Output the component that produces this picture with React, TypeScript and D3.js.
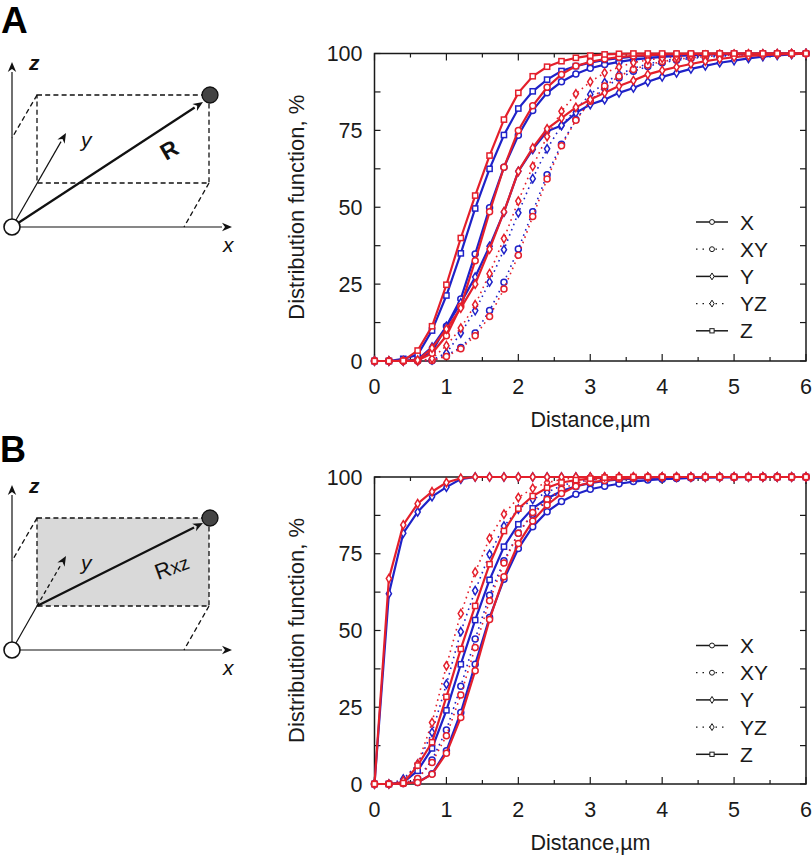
import React from "react";
import * as d3 from "d3";

const distance = d3.range(31).map((i) => i * 0.2);
const xTickMajor = [0, 1, 2, 3, 4, 5, 6];
const xTickMinor = [0.5, 1.5, 2.5, 3.5, 4.5, 5.5];
const yTickMajor = [0, 25, 50, 75, 100];
const yTickMinor = [12.5, 37.5, 62.5, 87.5];
const legendNames = ["X", "XY", "Y", "YZ", "Z"];

// Panel A
const aXBlue = [0,
  0, 0, 0.3, 3, 11.3,
  20.2, 34.8, 49.8, 63, 73.4,
  81.5, 87.2, 90.8, 93.3, 95.2,
  96.4, 97.3, 98, 98.5, 98.9,
  99.2, 99.4, 99.6, 99.7, 99.8,
  99.9, 99.9, 100, 100, 100];
const aXRed = [0,
  0, 0, 0.2, 2.5, 8.2,
  17.8, 32.6, 48.5, 63, 75,
  83, 89, 93.2, 95.9, 97.3,
  98.2, 98.8, 99.2, 99.5, 99.7,
  99.8, 99.9, 99.9, 100, 100,
  100, 100, 100, 100, 100];
const aYBlue = [0,
  0, 0, 0.5, 4.5, 11.3,
  18.9, 27.3, 37.3, 48.4, 61.7,
  68.8, 74.7, 76.6, 80.7, 83.4,
  85, 87.2, 88.8, 90.8, 92.4,
  93.7, 95, 96, 97, 97.7,
  98.4, 99, 99.4, 99.7, 100];
const aYRed = [0,
  0, 0, 0.3, 4.2, 10.4,
  17.2, 25, 36.4, 48.5, 61.7,
  69.3, 75.5, 79, 82.5, 85,
  87.2, 89.4, 91.2, 93.2, 94.5,
  95.6, 96.6, 97.5, 98.2, 98.8,
  99.2, 99.5, 99.7, 99.9, 100];
const aXYBlue = [0,
  0, 0, 0, 0.1, 1.9,
  4.4, 9.1, 16.4, 25.6, 36.4,
  48.5, 60.6, 70.5, 78.5, 84.5,
  88.8, 92, 94.2, 95.8, 97,
  97.8, 98.4, 98.8, 99.1, 99.4,
  99.6, 99.7, 99.8, 99.9, 100];
const aXYRed = [0,
  0, 0, 0, 0.2, 1.5,
  4, 8.2, 14.5, 23.4, 34.4,
  47, 59.2, 70, 78.3, 84.5,
  89.4, 92.6, 94.8, 96.3, 97.4,
  98.1, 98.6, 99, 99.3, 99.5,
  99.7, 99.8, 99.9, 100, 100];
const aYZBlue = [0,
  0, 0, 0, 0.4, 2.6,
  9.1, 16.4, 25.7, 36.2, 48.2,
  59.3, 69, 76.6, 81.8, 86.7,
  90.5, 93.2, 95.2, 96.6, 97.6,
  98.3, 98.8, 99.1, 99.4, 99.6,
  99.7, 99.8, 99.9, 99.9, 100];
const aYZRed = [0,
  0, 0, 0, 0.8, 5,
  10.7, 18.3, 28.4, 39.8, 52,
  63.3, 73, 81.2, 86.9, 90.8,
  93.7, 95.6, 97, 97.9, 98.5,
  98.9, 99.2, 99.5, 99.7, 99.8,
  99.9, 99.9, 100, 100, 100];
const aZBlue = [0,
  0, 0.7, 2, 9.9, 21.3,
  35, 49.6, 62.5, 73.5, 82.1,
  87.7, 91.5, 94.3, 95.9, 97,
  97.9, 98.5, 99, 99.3, 99.5,
  99.7, 99.8, 99.9, 99.9, 100,
  100, 100, 100, 100, 100];
const aZRed = [0,
  0, 0.1, 3.4, 11.3, 24.8,
  40, 53.8, 66.8, 78.5, 87.2,
  92.6, 95.7, 97.5, 98.6, 99.3,
  99.7, 99.9, 100, 100, 100,
  100, 100, 100, 100, 100,
  100, 100, 100, 100, 100];

// Panel B
const bXBlue = [0,
  0, 0.3, 0.5, 3.3, 10.8,
  23.3, 39, 54.2, 66.7, 76.7,
  83.8, 88.7, 92, 94.4, 96,
  97, 97.8, 98.5, 99, 99.3,
  99.5, 99.7, 99.8, 99.9, 99.9,
  100, 100, 100, 100, 100];
const bXRed = [0,
  0, 0.2, 0.5, 3.2, 10,
  21.7, 36.9, 53.6, 67.5, 78.3,
  85.7, 90.9, 94.6, 97, 98.2,
  98.9, 99.4, 99.7, 99.9, 100,
  100, 100, 100, 100, 100,
  100, 100, 100, 100, 100];
const bXYBlue = [0,
  0, 0.2, 1.6, 7.8, 17.6,
  31.8, 47.2, 61.5, 72.7, 81.7,
  87.9, 92.2, 95.4, 97, 98,
  98.7, 99.2, 99.5, 99.7, 99.8,
  99.9, 100, 100, 100, 100,
  100, 100, 100, 100, 100];
const bXYRed = [0,
  0, 0.2, 1.8, 7, 15.7,
  29, 44.5, 59.7, 72, 81.7,
  88.4, 92.7, 96, 98, 99,
  99.5, 99.8, 99.9, 100, 100,
  100, 100, 100, 100, 100,
  100, 100, 100, 100, 100];
const bYBlue = [0,
  62, 81.7, 88.6, 93.6, 96.7,
  99.3, 100, 100, 100, 100,
  100, 100, 100, 100, 100,
  100, 100, 100, 100, 100,
  100, 100, 100, 100, 100,
  100, 100, 100, 100, 100];
const bYRed = [0,
  66.9, 84.4, 91.3, 95.2, 98.2,
  99.6, 100, 100, 100, 100,
  100, 100, 100, 100, 100,
  100, 100, 100, 100, 100,
  100, 100, 100, 100, 100,
  100, 100, 100, 100, 100];
const bYZBlue = [0,
  0, 1.6, 6.5, 16.8, 32.5,
  49.6, 63, 74.8, 84, 89.5,
  92.7, 95, 97.2, 98.4, 99,
  99.4, 99.7, 99.8, 99.9, 100,
  100, 100, 100, 100, 100,
  100, 100, 100, 100, 100];
const bYZRed = [0,
  0, 1, 6.5, 20, 38.5,
  55.5, 69, 80, 87.9, 93.3,
  96.3, 98.2, 99.2, 99.7, 99.9,
  100, 100, 100, 100, 100,
  100, 100, 100, 100, 100,
  100, 100, 100, 100, 100];
const bZBlue = [0,
  0, 0.5, 4.3, 11.6, 24,
  39, 53.4, 66.5, 77.3, 84.6,
  89.8, 93, 95.4, 97, 98,
  98.7, 99.2, 99.5, 99.7, 99.8,
  99.9, 100, 100, 100, 100,
  100, 100, 100, 100, 100];
const bZRed = [0,
  0, 0.3, 6, 13.6, 28.4,
  44, 58, 71.6, 82.4, 89.7,
  93.8, 96.5, 98.2, 99, 99.5,
  99.8, 99.9, 100, 100, 100,
  100, 100, 100, 100, 100,
  100, 100, 100, 100, 100];

const BLUE = "#1f22c8";
const RED = "#e41f2b";
const FONT = "'Liberation Sans', Arial, sans-serif";
const INK = "#1a1a1a";

type Kind = "circle" | "diamond" | "square";

function Marker({ k, x, y, color, small }: { k: Kind; x: number; y: number; color: string; small?: boolean }) {
  const s = small ? 0.82 : 1;
  const sw = small ? 1 : 1.5;
  if (k === "circle") return <circle cx={x} cy={y} r={3 * s} fill="#fff" stroke={color} strokeWidth={sw} />;
  if (k === "square") return <rect x={x - 2.6 * s} y={y - 2.6 * s} width={5.2 * s} height={5.2 * s} fill="#fff" stroke={color} strokeWidth={sw} />;
  const w = 2.6 * s, h = 4.2 * s;
  return <path d={`M${x},${y - h}L${x + w},${y}L${x},${y + h}L${x - w},${y}Z`} fill="#fff" stroke={color} strokeWidth={sw} />;
}

type S = { v: number[]; color: string; k: Kind; dotted: boolean };

const seriesA: S[] = [
  { v: aXYBlue, color: BLUE, k: "circle", dotted: true },
  { v: aYZBlue, color: BLUE, k: "diamond", dotted: true },
  { v: aXBlue, color: BLUE, k: "circle", dotted: false },
  { v: aYBlue, color: BLUE, k: "diamond", dotted: false },
  { v: aZBlue, color: BLUE, k: "square", dotted: false },
  { v: aXYRed, color: RED, k: "circle", dotted: true },
  { v: aYZRed, color: RED, k: "diamond", dotted: true },
  { v: aXRed, color: RED, k: "circle", dotted: false },
  { v: aYRed, color: RED, k: "diamond", dotted: false },
  { v: aZRed, color: RED, k: "square", dotted: false },
];
const seriesB: S[] = [
  { v: bXYBlue, color: BLUE, k: "circle", dotted: true },
  { v: bYZBlue, color: BLUE, k: "diamond", dotted: true },
  { v: bXBlue, color: BLUE, k: "circle", dotted: false },
  { v: bYBlue, color: BLUE, k: "diamond", dotted: false },
  { v: bZBlue, color: BLUE, k: "square", dotted: false },
  { v: bXYRed, color: RED, k: "circle", dotted: true },
  { v: bYZRed, color: RED, k: "diamond", dotted: true },
  { v: bXRed, color: RED, k: "circle", dotted: false },
  { v: bYRed, color: RED, k: "diamond", dotted: false },
  { v: bZRed, color: RED, k: "square", dotted: false },
];

const legendKinds: Kind[] = ["circle", "circle", "diamond", "diamond", "square"];
const legendDotted = [false, true, false, true, false];

function Plot({ top, bottom, series }: { top: number; bottom: number; series: S[] }) {
  const left = 374.5, right = 806;
  const x = d3.scaleLinear().domain([0, 6]).range([left, right]);
  const y = d3.scaleLinear().domain([0, 100]).range([bottom, top]);
  const line = d3.line<number>().x((_, i) => x(distance[i])).y((d) => y(d));
  return (
    <g>
      <g stroke={INK} strokeWidth={1.2}>
        {xTickMajor.map((t) => (
          <g key={"M" + t}>
            <line x1={x(t)} x2={x(t)} y1={bottom} y2={bottom - 7} />
            <line x1={x(t)} x2={x(t)} y1={top} y2={top + 7} />
          </g>
        ))}
        {xTickMinor.map((t) => (
          <g key={"m" + t}>
            <line x1={x(t)} x2={x(t)} y1={bottom} y2={bottom - 4} />
            <line x1={x(t)} x2={x(t)} y1={top} y2={top + 4} />
          </g>
        ))}
        {[...yTickMajor, ...yTickMinor].map((t) => (
          <g key={"y" + t}>
            <line x1={left} x2={left + 6} y1={y(t)} y2={y(t)} />
            <line x1={right} x2={right - 6} y1={y(t)} y2={y(t)} />
          </g>
        ))}
      </g>
      <rect x={left} y={top} width={right - left} height={bottom - top} fill="none" stroke={INK} strokeWidth={1.5} />
      {series.map((s, i) => (
        <g key={i}>
          <path d={line(s.v) || ""} fill="none" stroke={s.color} strokeWidth={s.dotted ? 1.6 : 2.2} strokeDasharray={s.dotted ? "1.6 4" : undefined} />
          {s.v.map((d, j) => (
            <Marker key={j} k={s.k} x={x(distance[j])} y={y(d)} color={s.color} />
          ))}
        </g>
      ))}
      {xTickMajor.map((t) => (
        <text key={"xl" + t} x={x(t)} y={bottom + 33} textAnchor="middle" fontSize={21.5} fill={INK} fontFamily={FONT}>{t}</text>
      ))}
      {yTickMajor.map((t) => (
        <text key={"yl" + t} x={362.5} y={y(t) + 7.5} textAnchor="end" fontSize={21.5} fill={INK} fontFamily={FONT}>{t}</text>
      ))}
      <text x={590.5} y={bottom + 66} textAnchor="middle" fontSize={21.5} fill={INK} fontFamily={FONT}>Distance,µm</text>
      <text transform={`translate(304,${(top + bottom) / 2}) rotate(-90)`} textAnchor="middle" fontSize={22} fill={INK} fontFamily={FONT}>Distribution function, %</text>
      {legendNames.map((n, i) => {
        const ly = top + 168.5 + i * 27.2;
        return (
          <g key={n}>
            <line x1={696} x2={728} y1={ly} y2={ly} stroke={INK} strokeWidth={legendDotted[i] ? 1.2 : 1.5} strokeDasharray={legendDotted[i] ? "1.5 5" : undefined} />
            <Marker k={legendKinds[i]} x={712} y={ly} color={INK} small />
            <text x={740} y={ly + 7.5} fontSize={21} fill={INK} fontFamily={FONT}>{n}</text>
          </g>
        );
      })}
    </g>
  );
}

function Arrow({ x1, y1, x2, y2, w, dash }: { x1: number; y1: number; x2: number; y2: number; w: number; dash?: string }) {
  const a = Math.atan2(y2 - y1, x2 - x1);
  const L = 10, H = 4.2;
  const bx = x2 - L * Math.cos(a), by = y2 - L * Math.sin(a);
  const nx = -Math.sin(a), ny = Math.cos(a);
  return (
    <g>
      <line x1={x1} y1={y1} x2={bx} y2={by} stroke="#111" strokeWidth={w} strokeDasharray={dash} />
      <path d={`M${x2},${y2}L${bx + nx * H},${by + ny * H}L${x2 - 0.7 * L * Math.cos(a)},${y2 - 0.7 * L * Math.sin(a)}L${bx - nx * H},${by - ny * H}Z`} fill="#111" />
    </g>
  );
}

function Schematic({ oy, plane }: { oy: number; plane: boolean }) {
  // Geometry of the drawing, relative to the origin point (12, oy).
  const rt = oy - 132, rb = oy - 44;
  const dash = "5 3.2";
  return (
    <g>
      {plane && <rect x={37} y={rt} width={172} height={88} fill="#d9d9d9" />}
      <g fill="none" stroke="#111" strokeWidth={1.3} strokeDasharray={dash}>
        <rect x={37} y={rt} width={172} height={88} />
        <line x1={37} y1={rt} x2={12} y2={oy - 89} />
        <line x1={209} y1={rb} x2={184} y2={oy} />
      </g>
      <Arrow x1={12} y1={oy} x2={12} y2={oy - 165} w={1.2} />
      <Arrow x1={12} y1={oy} x2={232} y2={oy} w={1.2} />
      {plane ? (
        <g>
          <line x1={12} y1={oy} x2={37} y2={rb} stroke="#111" strokeWidth={1.2} />
          <Arrow x1={37} y1={rb} x2={66} y2={oy - 94} w={1.3} dash="4 3" />
          <Arrow x1={37} y1={rb} x2={203} y2={rt + 5} w={2.2} />
        </g>
      ) : (
        <g>
          <Arrow x1={12} y1={oy} x2={66} y2={oy - 94} w={1.2} />
          <Arrow x1={12} y1={oy} x2={203} y2={rt + 7} w={2.2} />
        </g>
      )}
      <circle cx={210} cy={rt} r={8} fill="#444" stroke="#111" strokeWidth={1.3} />
      <circle cx={12} cy={oy} r={8} fill="#fff" stroke="#111" strokeWidth={1.6} />
      <text x={29} y={oy - 157} fontSize={21} fontWeight={700} fontStyle="italic" fill="#111" fontFamily={FONT}>z</text>
      <text x={223} y={oy + 25} fontSize={21} fontStyle="italic" fill="#111" fontFamily={FONT}>x</text>
      <text x={81} y={oy - 80} fontSize={21} fontStyle="italic" fill="#111" fontFamily={FONT}>y</text>
      {plane ? (
        <text transform={`translate(158,${oy - 70}) rotate(-20)`} fontSize={22} fill="#111" fontFamily={FONT}>R<tspan fontSize={19}>xz</tspan></text>
      ) : (
        <text transform={`translate(166,${oy - 66}) rotate(-30)`} fontSize={23} fontWeight={700} fill="#111" fontFamily={FONT}>R</text>
      )}
    </g>
  );
}

export default function App() {
  return (
    <svg width={812} height={858} viewBox="0 0 812 858" style={{ position: "absolute", left: 0, top: 0, background: "#fff" }}>
      <text x={1} y={33} fontSize={37} fontWeight={700} fill="#000" fontFamily={FONT}>A</text>
      <text x={0} y={462} fontSize={36} fontWeight={700} fill="#000" fontFamily={FONT}>B</text>
      <Schematic oy={227} plane={false} />
      <Schematic oy={650} plane={true} />
      <Plot top={53.5} bottom={361} series={seriesA} />
      <Plot top={477} bottom={784} series={seriesB} />
    </svg>
  );
}
